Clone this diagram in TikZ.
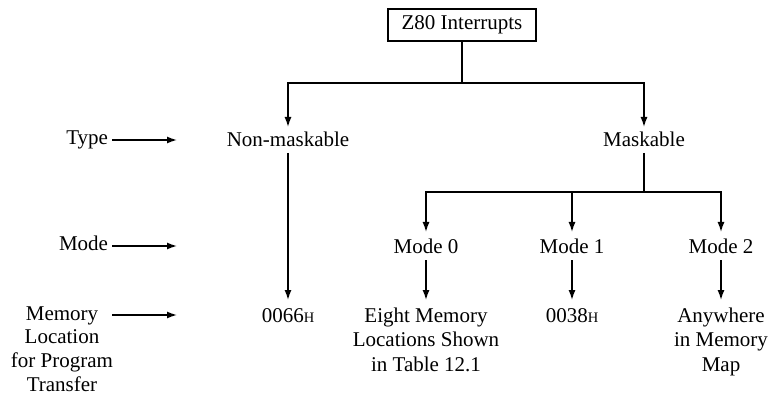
\documentclass[tikz,border=0pt]{standalone}
\usepackage{fontspec}
\setmainfont{Liberation Serif}
\usetikzlibrary{arrows.meta}
\newcommand\mlines[1]{\begin{tabular}[t]{@{}c@{}}#1\end{tabular}}
\newcommand\hsc{{\fontsize{14.5}{14.5}\selectfont H}}
\begin{document}
\begin{tikzpicture}[x=1pt,y=-1pt,
  font=\fontsize{21}{24.5}\selectfont,
  every node/.style={inner sep=0pt, outer sep=0pt},
  lbl/.style={anchor=base, text height=14pt, text depth=4pt},
  mlbl/.style={anchor=base, text height=14pt},
  conn/.style={line width=1.4pt},
  arr/.style={conn, -{Latex[length=10pt,width=7pt]}},
  titlebox/.style={draw, line width=1.8pt, minimum width=148pt, minimum height=32pt}]
\useasboundingbox (0,0) rectangle (771,398);

% title
\node[titlebox] (title) at (462,25) {Z80 Interrupts};
\coordinate (j1) at (462,83);

% row 1
\node[lbl] (nm) at (288,147) {Non-maskable};
\node[lbl] (mk) at (644,147) {Maskable};
\node[lbl, anchor=base east] (type) at (108,145) {Type};
\coordinate (ta) at (177,140);

% row 2
\coordinate (j2) at (644,192);
\node[lbl] (m0) at (426,254) {Mode 0};
\node[lbl] (m1) at (572,254) {Mode 1};
\node[lbl] (m2) at (721,254) {Mode 2};
\node[lbl, anchor=base east] (mode) at (108,251) {Mode};
\coordinate (moa) at (177,246);

% row 3
\node[lbl] (h66) at (288,322) {0066\hsc};
\node[mlbl, text depth=52pt] (eight) at (426,322) {\mlines{Eight Memory\\Locations Shown\\in Table 12.1}};
\node[lbl] (h38) at (572,322) {0038\hsc};
\node[mlbl, text depth=52pt] (any) at (721,322) {\mlines{Anywhere\\in Memory\\Map}};
\node[mlbl, text depth=74pt, font=\fontsize{21}{23.8}\selectfont] (mem) at (62,320) {\mlines{Memory\\Location\\for Program\\Transfer}};
\coordinate (mes) at (112,315);
\coordinate (mee) at (177,315);

% connectors
\draw[conn] (title.south) -- (j1);
\draw[arr, shorten >=6pt] (j1) -| (nm.north);
\draw[arr, shorten >=6pt] (j1) -| (mk.north);
\draw[arr, shorten <=2pt, shorten >=8pt] (nm.south) -- (h66.north);
\draw[conn, shorten <=2pt] (mk.south) -- (j2);
\draw[arr, shorten >=8pt] (j2) -| (m0.north);
\draw[arr, shorten >=8pt] (j2) -| (m1.north);
\draw[arr, shorten >=8pt] (j2) -| (m2.north);
\draw[arr, shorten <=2pt, shorten >=8pt] (m0.south) -- (eight.north);
\draw[arr, shorten <=2pt, shorten >=8pt] (m1.south) -- (h38.north);
\draw[arr, shorten <=2pt, shorten >=8pt] (m2.south) -- (any.north);

% row labels
\draw[arr, shorten <=4pt] (type.east) -- (type.east -| ta);
\draw[arr, shorten <=4pt] (mode.east) -- (mode.east -| moa);
\draw[arr] (mes) -- (mee);
\end{tikzpicture}
\end{document}
